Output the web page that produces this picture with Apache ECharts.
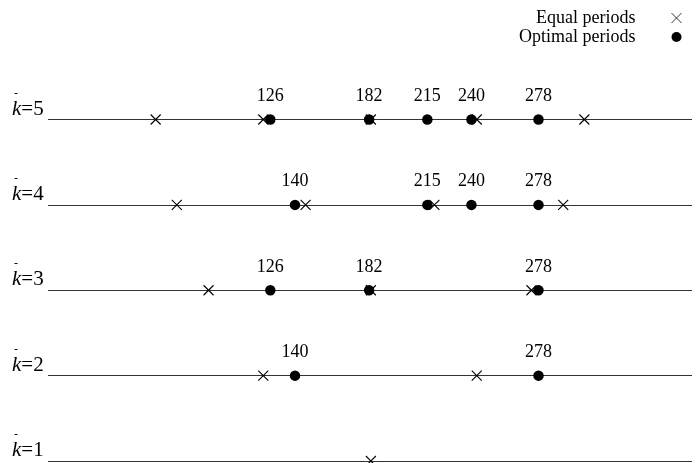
<!DOCTYPE html>
<html><head><meta charset="utf-8">
<script src="https://cdn.jsdelivr.net/npm/echarts@6/dist/echarts.min.js"></script>
<style>html,body{margin:0;padding:0;background:#fff}#c{width:697px;height:463px}</style>
</head><body><div id="c"></div>
<script>
// k levels (rows)
const kLevels = [1, 2, 3, 4, 5];
// Equal periods (crosses), per k
const equalK5 = [61, 122, 183, 243, 304];
const equalK4 = [73, 146, 219, 292];
const equalK3 = [91, 183, 274];
const equalK2 = [122, 243];
const equalK1 = [183];
// Optimal periods (dots), per k
const optK5 = [126, 182, 215, 240, 278];
const optK4 = [140, 215, 240, 278];
const optK3 = [126, 182, 278];
const optK2 = [140, 278];
const optK1 = [];

const equalByK = {5: equalK5, 4: equalK4, 3: equalK3, 2: equalK2, 1: equalK1};
const optByK = {5: optK5, 4: optK4, 3: optK3, 2: optK2, 1: optK1};

const eqData = [], optData = [];
kLevels.forEach(k => {
  equalByK[k].forEach(v => eqData.push([v, k]));
  optByK[k].forEach(v => optData.push([v, k]));
});

const FONT = '"Liberation Serif", "Times New Roman", serif';
const chart = echarts.init(document.getElementById('c'));
chart.setOption({
  animation: false,
  backgroundColor: '#fff',
  grid: {left: 48, right: 5, top: 119.5, bottom: 2, containLabel: false},
  legend: {
    orient: 'vertical', right: 8, top: 4, align: 'right',
    itemWidth: 20, itemHeight: 10, itemGap: 1,
    textStyle: {fontFamily: FONT, fontSize: 18, color: '#000', padding: [0, 26, 0, 0]},
    data: [
      {name: 'Equal periods', itemStyle: {borderWidth: 0.8}},
      {name: 'Optimal periods', itemStyle: {borderWidth: 0}}
    ]
  },
  xAxis: {type: 'value', min: 0, max: 365, show: false},
  yAxis: {
    type: 'value', min: 1, max: 5, interval: 1,
    axisLine: {show: false}, axisTick: {show: false},
    splitLine: {show: true, lineStyle: {color: '#333', width: 1}},
    axisLabel: {
      align: 'left', margin: 36, verticalAlign: 'bottom',
      formatter: v => '{bar|-}\n{k|k}{n|=' + v + '}',
      rich: {
        bar: {fontFamily: FONT, fontSize: 12, lineHeight: 10, color: '#000', padding: [0, 0, 0, 2]},
        k: {fontFamily: FONT, fontSize: 21, fontStyle: 'italic', lineHeight: 21, color: '#000'},
        n: {fontFamily: FONT, fontSize: 21, lineHeight: 21, color: '#000'}
      }
    }
  },
  series: [
    {
      name: 'Optimal periods', type: 'scatter', symbol: 'circle', symbolSize: 10.5,
      itemStyle: {color: '#000', opacity: 1},
      label: {show: true, position: 'top', distance: 9, formatter: p => p.value[0],
        fontFamily: FONT, fontSize: 18, color: '#000'},
      data: optData, z: 2
    },
    {
      name: 'Equal periods', type: 'scatter',
      symbol: 'path://M0,0L10,10M10,0L0,10', symbolSize: 10,
      itemStyle: {color: 'none', borderColor: '#000', borderWidth: 1.1, opacity: 1},
      data: eqData, z: 3
    }
  ]
});
</script></body></html>
